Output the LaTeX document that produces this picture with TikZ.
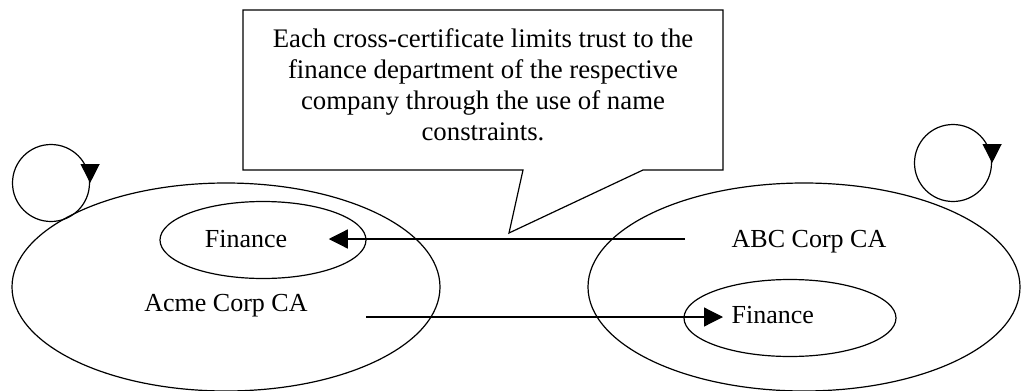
\documentclass[tikz,border=0pt]{standalone}
\usepackage{fontspec}
\setmainfont{Liberation Serif}
\usetikzlibrary{shapes.geometric,arrows.meta,positioning,calc}
\tikzset{
ca/.style = {draw, ellipse, inner sep=0pt, minimum height=208pt},
dept/.style = {draw, ellipse, inner sep=0pt, minimum width=206pt, minimum height=77pt},
txt/.style = {inner sep=0pt, font=\fontsize{26}{31}\selectfont},
selfloop/.style = {draw, circle, inner sep=0pt, minimum size=77pt},
flow/.style = {-{Triangle[length=19pt,width=19pt]}}
}

\begin{document}
\begin{tikzpicture}[x=1pt, y=-1pt, line width=1.2pt]
					\useasboundingbox (0,0) rectangle (1021,391);
					\node[ca, minimum width=428pt] (acme) at (226,287) {};
					\node[ca, minimum width=432pt] (abc) at (804,287) {};
					\node[dept] (acmefin) at (263,240) {};
					\node[dept, minimum width=212pt] (abcfin) at (790,318) {};
					\node[txt, anchor=base] (acmefinlbl) at (246,247) {Finance};
					\node[txt, anchor=base] (acmelbl) at (226,311) {Acme Corp CA};
					\node[txt, anchor=base] (abclbl) at (809,247) {ABC Corp CA};
					\node[txt, anchor=base west] (abcfinlbl) at (731,323) {Finance};
					\node[selfloop] (acmeloop) at (51,183) {};
					\node[selfloop] (abcloop) at (953,163) {};
					\draw[flow] ([yshift=10pt]acmeloop.east) -- (acmeloop.east);
					\draw[flow] ([yshift=10pt]abcloop.east) -- (abcloop.east);
					\draw[flow] ($(abclbl.base west)+(-46,-8)$) -- ($(acmefinlbl.base east)+(41,-8)$);
					\draw[flow] ($(acmelbl.base east)+(58,6)$) -- ($(abcfinlbl.base west)+(-8,-6)$);
					% callout
					\coordinate (tip) at (509,233);
					\draw (243,10) -- (723,10) -- (723,170) -- (643,170) -- (tip) -- (523,170) -- (243,170) -- cycle;
					\node[txt, align=center, font=\fontsize{26.8}{31}\selectfont] (note) at (483,85) {Each cross-certificate limits trust to the\\ finance department of the respective\\ company through the use of name\\ constraints.};
				\end{tikzpicture}
\end{document}
